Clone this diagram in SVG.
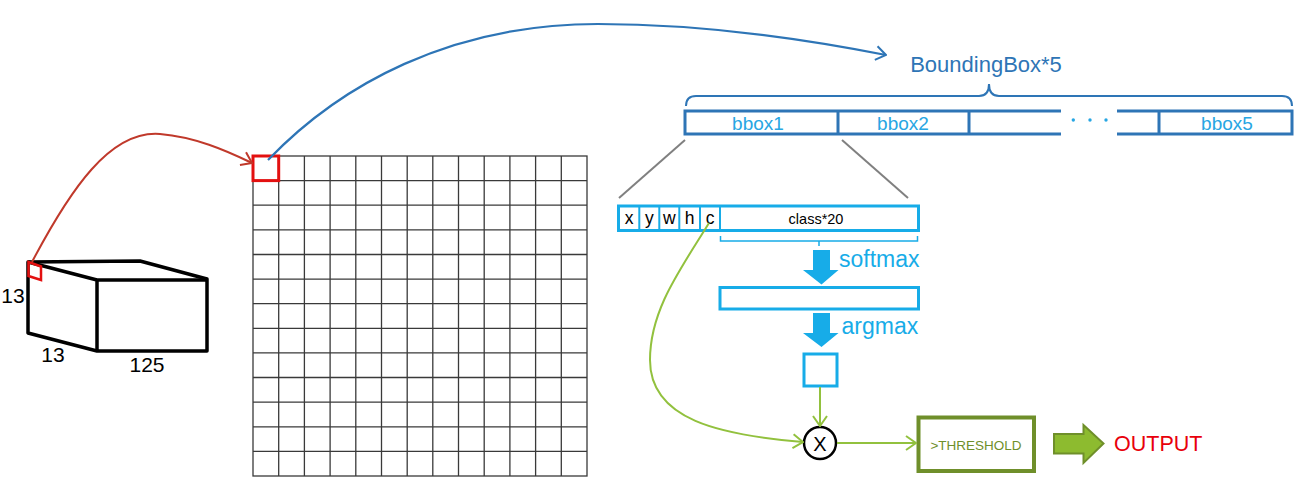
<svg xmlns="http://www.w3.org/2000/svg" width="1299" height="500" viewBox="0 0 1299 500">
<style>
text{font-family:"Liberation Sans",Arial,sans-serif}
.cube{fill:none;stroke:#000;stroke-width:3.5;stroke-linejoin:round}
.dim{font-size:21px;fill:#000}
.grid{stroke:#3a3a3a;stroke-width:1.3;fill:none}
.redbox{fill:none;stroke:#E31010;stroke-width:3}
.bar{fill:none;stroke:#2E75B6;stroke-width:3}
.bbt{font-size:19px;fill:#27A6E3;text-anchor:middle}
.dot{fill:#27A6E3}
.cy{fill:none;stroke:#17ACE8;stroke-width:3}
.cyt{fill:#17ACE8}
.lbl{font-size:17.5px;fill:#000;text-anchor:middle}
.gline{fill:none;stroke:#92C13E;stroke-width:2}
.gray{stroke:#808080;stroke-width:2}
</style>
<defs>
<marker id="aBlue" viewBox="0 0 12 16" refX="11" refY="8" markerWidth="12" markerHeight="16" markerUnits="userSpaceOnUse" orient="auto">
<path d="M1,1 L11,8 L1,15" fill="none" stroke="#2E75B6" stroke-width="2"/>
</marker>
<marker id="aRed" viewBox="0 0 12 16" refX="11" refY="8" markerWidth="12" markerHeight="16" markerUnits="userSpaceOnUse" orient="auto">
<path d="M1,1 L11,8 L1,15" fill="none" stroke="#C0392B" stroke-width="2"/>
</marker>
<marker id="aGreen" viewBox="0 0 12 16" refX="11" refY="8" markerWidth="12" markerHeight="16" markerUnits="userSpaceOnUse" orient="auto">
<path d="M1,1 L11,8 L1,15" fill="none" stroke="#92C13E" stroke-width="2"/>
</marker>
</defs>
<rect width="1299" height="500" fill="#fff"/>

<g id="cube">
<path class="cube" d="M28,262 L140,261 L207,279 L207,351 L97,351 L28,333 Z"/>
<path class="cube" d="M28,262 L97,280 L207,280 M97,280 L97,351"/>
<path d="M28.5,262 L41,266.5 L41,280 L28.5,276 Z" fill="none" stroke="#E31010" stroke-width="2.5"/>
<text class="dim" x="13" y="303" text-anchor="middle">13</text>
<text class="dim" x="53" y="362" text-anchor="middle">13</text>
<text class="dim" x="147" y="372" text-anchor="middle">125</text>
</g>

<g id="grid">
<rect class="grid" x="253" y="156" width="334" height="320"/>
<path class="grid" d="M278.7,156V476M304.4,156V476M330.1,156V476M355.8,156V476M381.5,156V476M407.2,156V476M432.8,156V476M458.5,156V476M484.2,156V476M509.9,156V476M535.6,156V476M561.3,156V476
M253,180.6H587M253,205.2H587M253,229.8H587M253,254.5H587M253,279.1H587M253,303.7H587M253,328.3H587M253,352.9H587M253,377.5H587M253,402.2H587M253,426.8H587M253,451.4H587"/>
<rect class="redbox" x="253" y="156" width="25.7" height="24.6"/>
</g>

<g id="bboxes">
<text x="986" y="72" font-size="22" fill="#2E75B6" text-anchor="middle">BoundingBox*5</text>
<path d="M686,106 Q686,96 696,96 L979,96 Q989,96 989,84 Q989,96 999,96 L1282,96 Q1292,96 1292,106" fill="none" stroke="#2E75B6" stroke-width="2"/>
<path class="bar" d="M1061,111 H685 V134 H1061 M1117,111 H1292 V134 H1117 M838,111 V134 M969,111 V134 M1159,111 V134"/>
<text class="bbt" x="758" y="130">bbox1</text>
<text class="bbt" x="903" y="130">bbox2</text>
<text class="bbt" x="1227" y="130">bbox5</text>
<circle class="dot" cx="1073.3" cy="120" r="1.7"/>
<circle class="dot" cx="1090" cy="120" r="1.7"/>
<circle class="dot" cx="1106" cy="120" r="1.7"/>
</g>

<g id="vector">
<rect class="cy" x="618.5" y="206" width="300" height="24.5"/>
<path d="M639.3,206V230.5M659.3,206V230.5M679.3,206V230.5M700,206V230.5M720,206V230.5" stroke="#17ACE8" stroke-width="2"/>
<text class="lbl" x="629" y="224">x</text>
<text class="lbl" x="649.3" y="224">y</text>
<text class="lbl" x="669.3" y="224">w</text>
<text class="lbl" x="689.6" y="224">h</text>
<text class="lbl" x="710" y="224">c</text>
<text x="816" y="224" font-size="14.5" fill="#000" text-anchor="middle">class*20</text>
<path d="M720.5,236 V241 H917.5 V236 M819,241 V246" fill="none" stroke="#17ACE8" stroke-width="1.5"/>
</g>

<g id="softmax">
<path class="cyt" d="M813,250 H830 V270 H838.5 L821.5,284.5 L803,270 H813 Z"/>
<text x="839" y="267" font-size="23" fill="#17ACE8">softmax</text>
</g>

<g id="probs">
<rect class="cy" x="720" y="287.5" width="198.5" height="21.5"/>
</g>

<g id="argmax">
<path class="cyt" d="M813,313 H830 V333 H838.5 L821.5,347 L803,333 H813 Z"/>
<text x="841.5" y="333.5" font-size="23" fill="#17ACE8">argmax</text>
</g>

<g id="maxbox">
<rect class="cy" x="804" y="354" width="33" height="32"/>
</g>

<g id="multiply">
<circle cx="820" cy="443" r="16" fill="#fff" stroke="#000" stroke-width="2.5"/>
<text x="820" y="450.5" font-size="20" fill="#000" text-anchor="middle">X</text>
</g>

<g id="threshold">
<rect x="918.5" y="417.5" width="115.5" height="53.5" fill="#fff" stroke="#6F8F2A" stroke-width="4"/>
<text x="976" y="450" font-size="13.5" fill="#6F8F2A" text-anchor="middle">&gt;THRESHOLD</text>
</g>

<g id="output">
<path d="M1054,434 H1083.5 V425 L1103.5,443.5 L1083.5,463 V453.5 H1054 Z" fill="#8DBB2F" stroke="#6F8F2A" stroke-width="2" stroke-linejoin="miter"/>
<text x="1114" y="451" font-size="21.5" fill="#E8000B">OUTPUT</text>
</g>

<g id="connectors">
<path d="M32,262 C70,190 110,130 160,134 C195,137 225,150 252,163" fill="none" stroke="#C0392B" stroke-width="2" marker-end="url(#aRed)"/>
<path d="M268,160 C340,85 450,24 598,24 C700,24 800,38 886,55" fill="none" stroke="#2E75B6" stroke-width="2.2" marker-end="url(#aBlue)"/>
<line class="gray" x1="685" y1="140" x2="619" y2="198"/>
<line class="gray" x1="842" y1="140" x2="908" y2="198"/>
<path class="gline" d="M709,223 C680,270 650,310 650,360 C650,420 720,435 803,442" marker-end="url(#aGreen)"/>
<line class="gline" x1="820" y1="387" x2="820" y2="426" marker-end="url(#aGreen)"/>
<line class="gline" x1="837" y1="443" x2="916" y2="443" marker-end="url(#aGreen)"/>
</g>
</svg>
